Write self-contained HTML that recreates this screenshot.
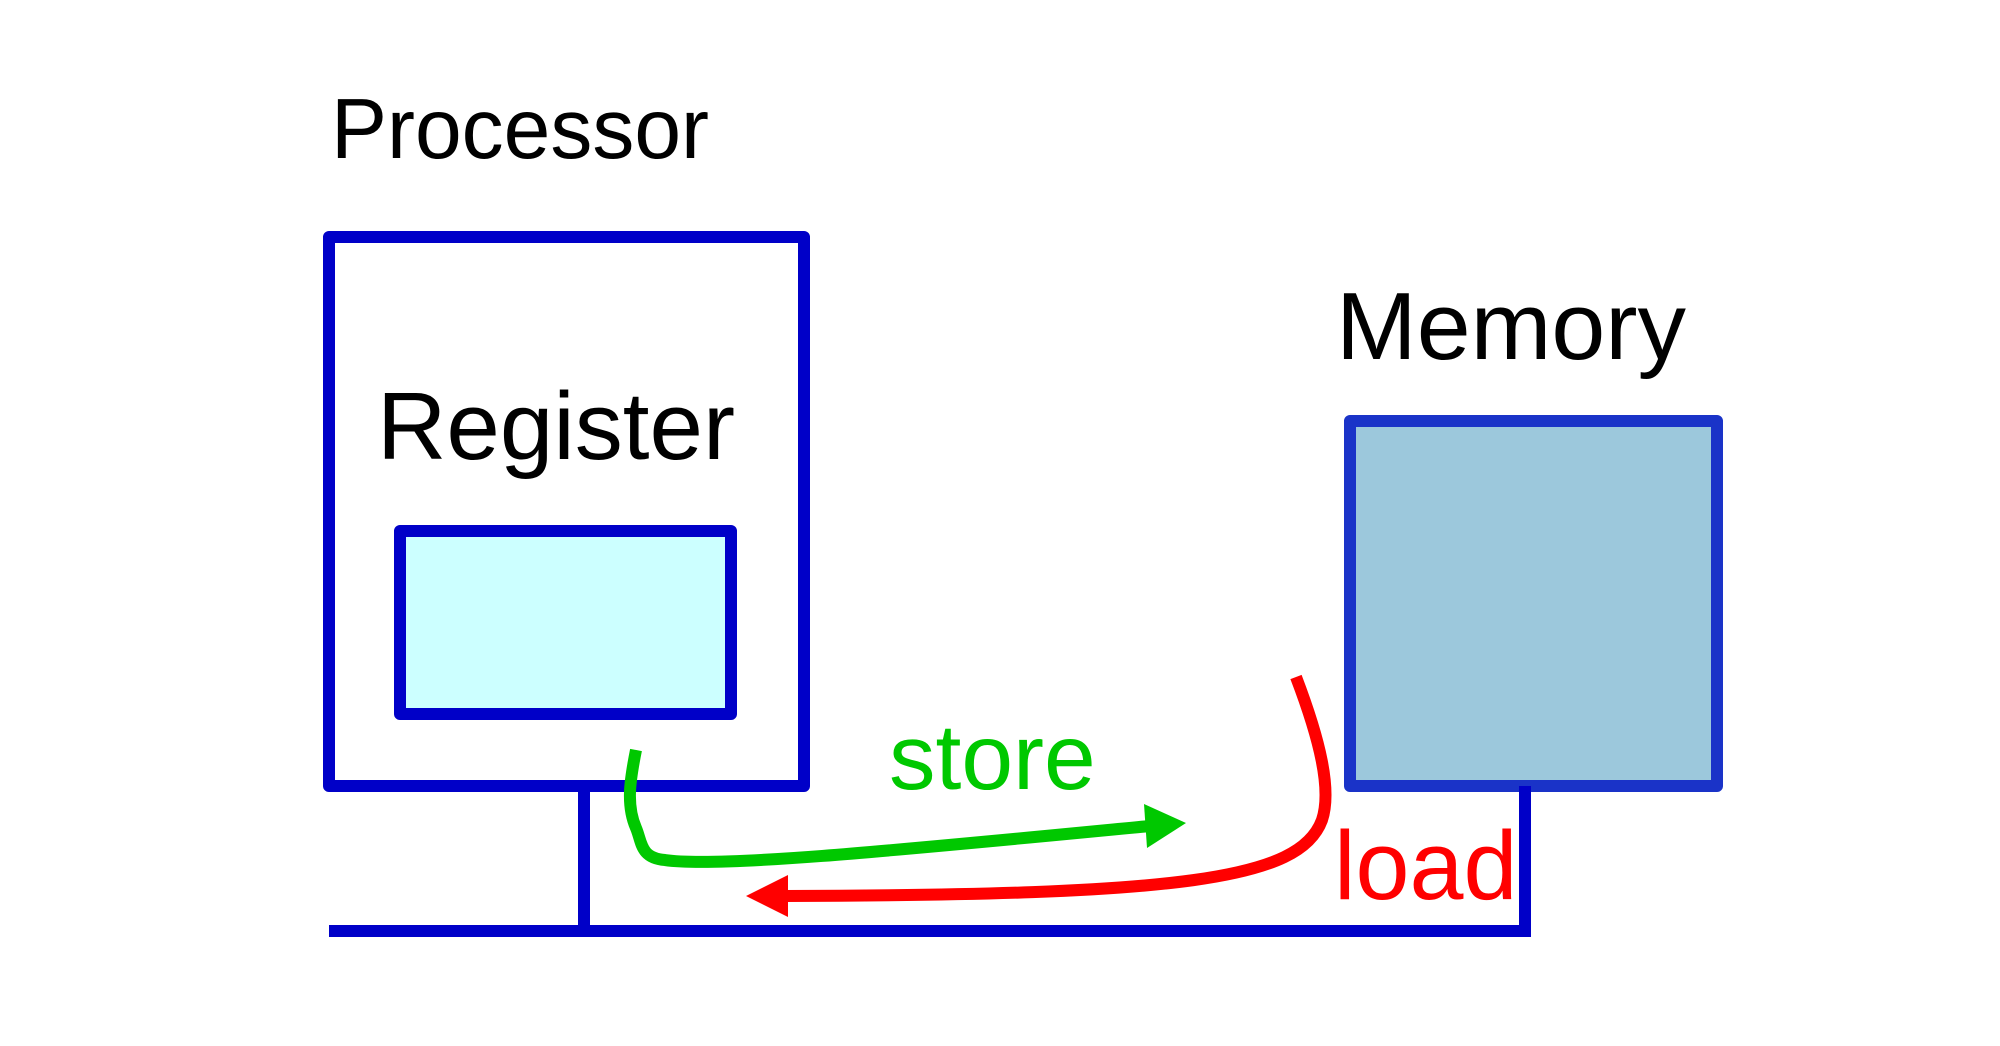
<!DOCTYPE html>
<html><head><meta charset="utf-8"><style>
html,body{margin:0;padding:0;background:#fff;}
svg{display:block;}
text{font-family:"Liberation Sans",Arial,sans-serif;}
</style></head><body>
<svg width="2000" height="1046" viewBox="0 0 2000 1046" xmlns="http://www.w3.org/2000/svg">
<rect width="2000" height="1046" fill="#fff"/>
<text x="331" y="158" font-size="85" fill="#000" textLength="378" lengthAdjust="spacingAndGlyphs">Processor</text>
<text x="1336" y="359" font-size="96" fill="#000" textLength="350" lengthAdjust="spacingAndGlyphs">Memory</text>
<rect x="329" y="237" width="475" height="549" fill="#fff" stroke="#0000c8" stroke-width="12" stroke-linejoin="round"/>
<text x="377" y="459" font-size="96" fill="#000" textLength="358" lengthAdjust="spacingAndGlyphs">Register</text>
<rect x="400" y="531" width="331" height="183" fill="#ccffff" stroke="#0000c8" stroke-width="12" stroke-linejoin="round"/>
<rect x="1350" y="421" width="367" height="365" fill="#9cc8dc" stroke="#1a33c8" stroke-width="12" stroke-linejoin="round"/>
<line x1="584" y1="786" x2="584" y2="931" stroke="#0000c8" stroke-width="12"/>
<line x1="1525" y1="786" x2="1525" y2="937" stroke="#0000c8" stroke-width="12"/>
<line x1="329" y1="931" x2="1531" y2="931" stroke="#0000c8" stroke-width="12"/>
<text x="889" y="789" font-size="93" fill="#00c800">store</text>
<text x="1334" y="899" font-size="97" fill="#ff0000">load</text>
<path d="M636,750 C630,780 626,805 636,828 C642,842 640,858 665,860 C720,868 900,850 1150,826" fill="none" stroke="#00c800" stroke-width="12"/>
<polygon points="1186,823 1144,804 1147,848" fill="#00c800"/>
<path d="M1296,677 C1320,740 1332,790 1322,820 C1300,880 1180,895 785,896" fill="none" stroke="#ff0000" stroke-width="12"/>
<polygon points="746,896 788,875 788,917" fill="#ff0000"/>
</svg>
</body></html>
